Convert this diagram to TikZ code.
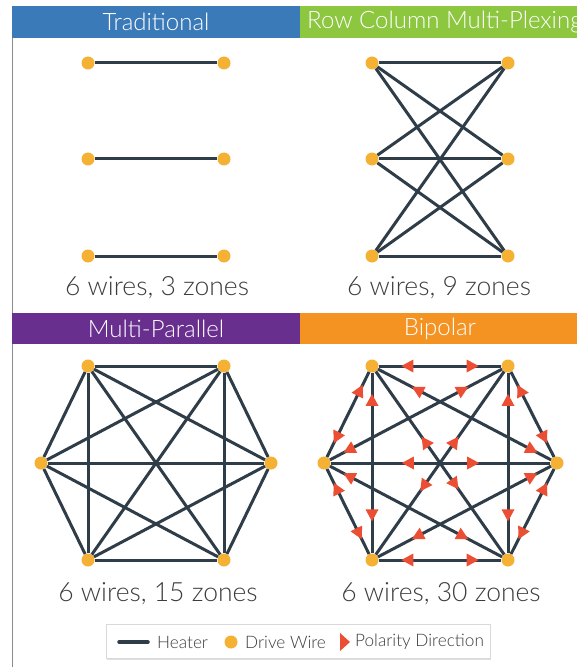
\documentclass[tikz,border=0pt]{standalone}
\usepackage{fontspec}
\setmainfont{Lato}[UprightFont=* Light]
\usetikzlibrary{decorations.markings,shadows}

\definecolor{hdrblue}{RGB}{58,122,184}
\definecolor{hdrgreen}{RGB}{141,198,63}
\definecolor{hdrpurple}{RGB}{104,47,142}
\definecolor{hdrorange}{RGB}{245,147,34}
\definecolor{wire}{RGB}{47,61,73}
\definecolor{drive}{RGB}{245,177,52}
\definecolor{polred}{RGB}{236,78,52}
\definecolor{captxt}{RGB}{60,60,60}
\definecolor{edgegray}{RGB}{140,140,140}

\tikzset{
  dot/.style={circle, fill=drive, minimum size=13pt, inner sep=0pt},
  heater/.style={draw=wire, line width=3pt},
  hdrtext/.style={text=white, font=\fontsize{24}{28}\selectfont, inner sep=0pt},
  caption/.style={text=captxt, font=\fontsize{26.5}{31}\selectfont, inner sep=0pt},
  legtext/.style={text=captxt, font=\fontsize{17.2}{21}\selectfont, inner sep=0pt, anchor=west},
}

% two polarity triangles on the segment #1--#2: one at #3 pointing back to #1,
% one at #4 pointing on to #2
\newcommand{\polar}[4]{%
  \path[decorate, decoration={markings,
      mark=at position #3 with {\fill[polred] (-6pt,0pt) -- (6pt,6.5pt) -- (6pt,-6.5pt) -- cycle;},
      mark=at position #4 with {\fill[polred] (6pt,0pt) -- (-6pt,6.5pt) -- (-6pt,-6.5pt) -- cycle;}}]
    (#1.center) -- (#2.center);}

\begin{document}
\begin{tikzpicture}[x=1pt,y=-1pt]
\useasboundingbox (0,0) rectangle (577,671);
\fill[white] (0,0) rectangle (577,671);

% frame line on the left
\draw[edgegray, line width=0.8pt] (12,6) -- (12,667);

% header bands
\fill[hdrblue]   (12,6)   rectangle (300,38);
\fill[hdrgreen]  (300,6)  rectangle (577,38);
\fill[hdrpurple] (12,313) rectangle (300,344);
\fill[hdrorange] (300,313) rectangle (577,344);
\node[hdrtext] (hTrad) at (156,22) {Traditional};
\node[hdrtext, anchor=west] (hRow) at (307,22) {Row Column Multi-Plexing};
\node[hdrtext] (hMulti) at (156,329) {Multi-Parallel};
\node[hdrtext] (hBip) at (440,329) {Bipolar};

% ---- Traditional ----
\foreach \n/\x/\y in {ta1/88/63, tb1/224/63, ta2/88/159, tb2/224/159, ta3/88/256, tb3/224/256}
  \node[dot] (\n) at (\x,\y) {};
\foreach \i in {1,2,3}
  \draw[heater] (ta\i) -- (tb\i);
\node[caption] (cTrad) at (157,288) {6 wires, 3 zones};

% ---- Row column multiplexing ----
\foreach \n/\x/\y in {ra1/372/63, rb1/508/63, ra2/372/159, rb2/508/159, ra3/372/256, rb3/508/256}
  \node[dot] (\n) at (\x,\y) {};
\foreach \i in {1,2,3}
  \foreach \j in {1,2,3}
    \draw[heater] (ra\i) -- (rb\j);
\node[caption] (cRow) at (439,288) {6 wires, 9 zones};

% ---- Multi-parallel: complete graph on six drive wires ----
\foreach \n/\x/\y in {mtl/88/366, mtr/224/366, ml/41/463, mr/271/463, mbl/88/560, mbr/224/560}
  \node[dot] (\n) at (\x,\y) {};
\foreach \a/\b in {mtl/mtr, mtl/ml, mtl/mr, mtl/mbl, mtl/mbr,
                   mtr/ml, mtr/mr, mtr/mbl, mtr/mbr,
                   ml/mr, ml/mbl, ml/mbr,
                   mr/mbl, mr/mbr, mbl/mbr}
  \draw[heater] (\a) -- (\b);
\node[caption] (cMulti) at (158,594) {6 wires, 15 zones};

% ---- Bipolar: same graph, each heater driven both ways ----
\foreach \n/\x/\y in {btl/372/366, btr/508/366, bl/324/463, br/557/463, bbl/372/560, bbr/508/560}
  \node[dot] (\n) at (\x,\y) {};
\foreach \a/\b in {btl/btr, btl/bl, btl/br, btl/bbl, btl/bbr,
                   btr/bl, btr/br, btr/bbl, btr/bbr,
                   bl/br, bl/bbl, bl/bbr,
                   br/bbl, br/bbr, bbl/bbr}
  \draw[heater] (\a) -- (\b);
\foreach \a/\b/\p/\q in {btl/btr/0.26/0.74, bbl/bbr/0.26/0.74, bl/br/0.36/0.64,
                         btl/bbl/0.175/0.77, btr/bbr/0.175/0.77,
                         btl/bl/0.25/0.74, btr/br/0.25/0.74, bl/bbl/0.26/0.73, br/bbr/0.26/0.73,
                         btl/bbr/0.39/0.61, btr/bbl/0.39/0.62,
                         btl/br/0.245/0.865, btr/bl/0.245/0.865,
                         bl/bbr/0.135/0.755, br/bbl/0.135/0.755}
  \polar{\a}{\b}{\p}{\q};
\node[caption] (cBip) at (441,594) {6 wires, 30 zones};

% ---- legend ----
\node[draw=black!15, fill=white, line width=0.6pt, minimum width=384pt, minimum height=34pt,
      drop shadow={shadow xshift=1pt, shadow yshift=-2pt, opacity=0.25}] (legend) at (298,641) {};
\coordinate (lh1) at (119,642);
\coordinate (lh2) at (148,642);
\draw[wire, line width=3.5pt, line cap=round] (lh1) -- (lh2);
\node[legtext] (lHeater) at (157,642) {Heater};
\node[dot] (lDot) at (231,642) {};
\node[legtext] (lDrive) at (245,642) {Drive Wire};
\fill[polred] (340,633) -- (350,642) -- (340,651) -- cycle;
\node[legtext] (lPol) at (355,642) {Polarity Direction};
\end{tikzpicture}
\end{document}
